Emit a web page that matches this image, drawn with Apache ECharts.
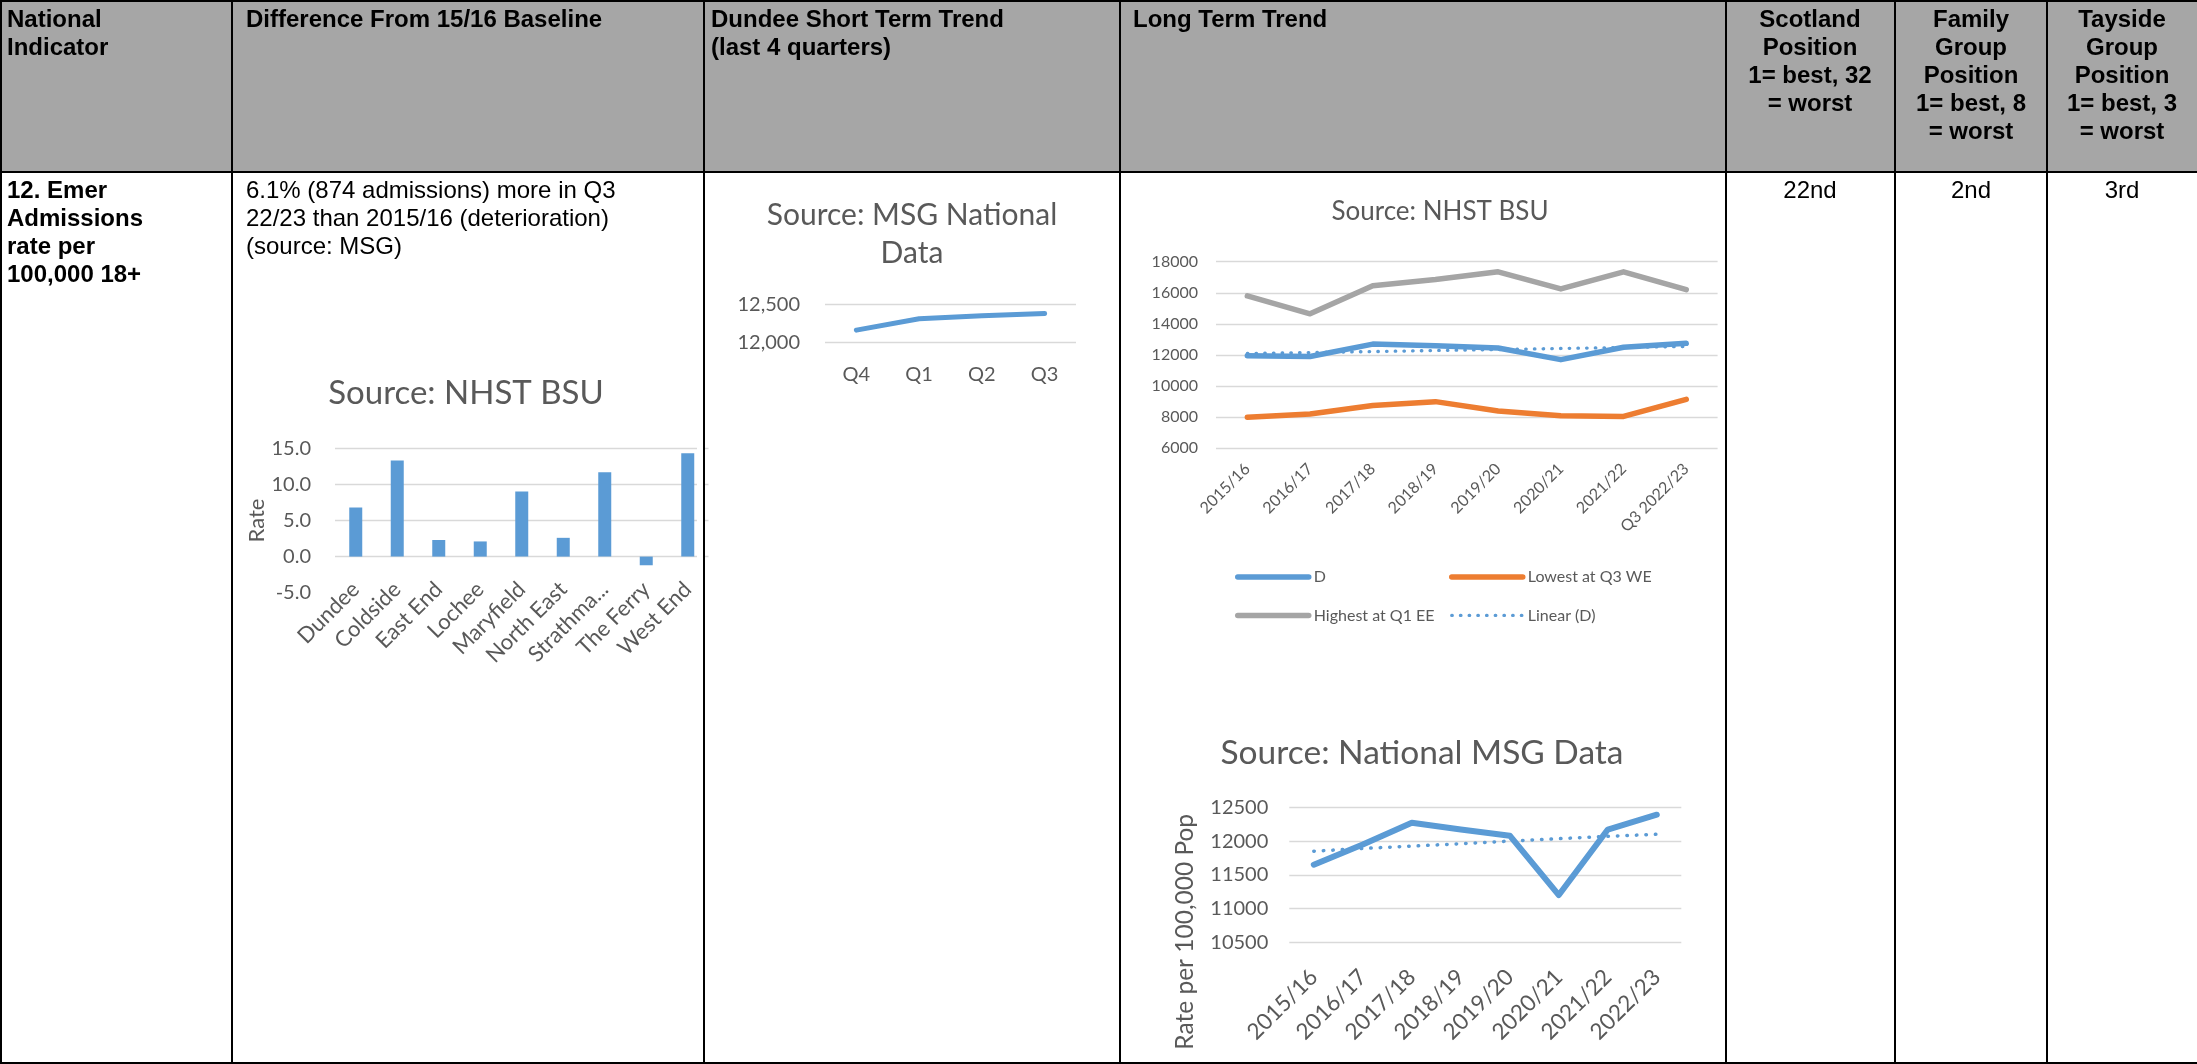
<!DOCTYPE html>
<html>
<head>
<meta charset="utf-8">
<title>12. Emer Admissions rate per 100,000 18+</title>
<script src="https://cdn.jsdelivr.net/npm/echarts@6.0.0/dist/echarts.min.js"></script>
<style>
  html, body { margin: 0; padding: 0; background: #fff; }
  #page { width: 2197px; height: 1064px; }
</style>
</head>
<body>
<div id="page"></div>
<script>
// ---- data ----
const wardNames = ["Dundee", "Coldside", "East End", "Lochee", "Maryfield", "North East", "Strathma...", "The Ferry", "West End"]
const wardRates = [6.8, 13.3, 2.3, 2.1, 9.0, 2.6, 11.7, -1.2, 14.3]

const quarters = ["Q4", "Q1", "Q2", "Q3"]
const quarterRates = [12160, 12310, 12350, 12380]

const bsuYears = ["2015/16", "2016/17", "2017/18", "2018/19", "2019/20", "2020/21", "2021/22", "Q3 2022/23"]
const dundeeBsu = [11950, 11900, 12700, 12600, 12450, 11700, 12500, 12750]
const lowestWE = [8000, 8200, 8750, 9000, 8400, 8100, 8050, 9150]
const highestEE = [15800, 14650, 16450, 16850, 17350, 16250, 17350, 16200]
const dundeeBsuLinear = [12100, 12160, 12220, 12290, 12350, 12420, 12480, 12550]

const msgYears = ["2015/16", "2016/17", "2017/18", "2018/19", "2019/20", "2020/21", "2021/22", "2022/23"]
const msgRates = [11650, 11950, 12270, 12170, 12080, 11200, 12170, 12390]
const msgLinear = [11850, 11890, 11925, 11960, 12000, 12035, 12070, 12100]

// ---- table text ----
const headerCells = [
  { x: 7, align: "left", text: "National\nIndicator" },
  { x: 246, align: "left", text: "Difference From 15/16 Baseline" },
  { x: 711, align: "left", text: "Dundee Short Term Trend\n(last 4 quarters)" },
  { x: 1133, align: "left", text: "Long Term Trend" },
  { x: 1810, align: "center", text: "Scotland\nPosition\n1= best, 32\n= worst" },
  { x: 1971, align: "center", text: "Family\nGroup\nPosition\n1= best, 8\n= worst" },
  { x: 2122, align: "center", text: "Tayside\nGroup\nPosition\n1= best, 3\n= worst" }
]
const bodyCells = [
  { x: 7, align: "left", bold: true, text: "12. Emer\nAdmissions\nrate per\n100,000 18+" },
  { x: 246, align: "left", bold: false, text: "6.1% (874 admissions) more in Q3\n22/23 than 2015/16 (deterioration)\n(source: MSG)" },
  { x: 1810, align: "center", bold: false, text: "22nd" },
  { x: 1971, align: "center", bold: false, text: "2nd" },
  { x: 2122, align: "center", bold: false, text: "3rd" }
]
const columnLines = [232, 704, 1120, 1726, 1895, 2047]

const tableFont = "'Liberation Sans', Arial, sans-serif"
const chartFont = "Lato, 'Open Sans', sans-serif"
const grey = "#595959"
const gridGrey = "#d9d9d9"
const blue = "#5b9bd5"
const orange = "#ed7d31"
const silver = "#a5a5a5"

function cellText(c, top, bold) {
  return {
    type: "text", z: 100, silent: true,
    style: {
      text: c.text, x: c.x, y: top,
      fontFamily: tableFont, fontSize: 24, fontWeight: bold ? "bold" : "normal",
      lineHeight: 28, fill: "#000", align: c.align, verticalAlign: "top"
    }
  }
}

function rule(x1, y1, x2, y2) {
  return { type: "line", z: 110, silent: true, shape: { x1, y1, x2, y2 }, style: { stroke: "#000", lineWidth: 2 } }
}

const graphics = [
  { type: "rect", z: 1, silent: true, shape: { x: 0, y: 0, width: 2197, height: 172 }, style: { fill: "#a6a6a6" } },
  // the bar chart picture is cropped a little short of the cell edge
  { type: "rect", z: 90, silent: true, shape: { x: 697, y: 430, width: 7, height: 180 }, style: { fill: "#fff" } },
  rule(0, 1, 2197, 1), rule(1, 0, 1, 1064), rule(0, 172, 2197, 172), rule(0, 1063, 2197, 1063),
  ...columnLines.map(x => rule(x, 0, x, 1064)),
  ...headerCells.map(c => cellText(c, 6.5, true)),
  ...bodyCells.map(c => cellText(c, 177.5, c.bold))
]

function chartTitle(text, cx, cy, size, lineHeight) {
  return {
    text, left: cx, top: cy, padding: 0,
    textAlign: "center", textVerticalAlign: "middle",
    textStyle: { fontFamily: chartFont, fontSize: size, fontWeight: "normal", color: grey, lineHeight: lineHeight || size * 1.2 }
  }
}

const plain = v => String(v)

function valueAxis(gridIndex, min, max, interval, fontSize, margin, fmt) {
  return {
    type: "value", gridIndex, min, max, interval,
    axisLine: { show: false }, axisTick: { show: false },
    axisLabel: { fontFamily: chartFont, fontSize, color: grey, margin, formatter: fmt || plain },
    splitLine: { lineStyle: { color: gridGrey, width: 1.3 } }
  }
}

function categoryAxis(gridIndex, data, fontSize, rotate, margin) {
  return {
    type: "category", gridIndex, data,
    axisLine: { show: false, onZero: false }, axisTick: { show: false },
    axisLabel: { interval: 0, rotate, fontFamily: chartFont, fontSize, color: grey, margin }
  }
}

function lineSeries(name, data, axisIndex, color, width, dotted) {
  return {
    name, type: "line", data, xAxisIndex: axisIndex, yAxisIndex: axisIndex,
    symbol: "none", showSymbol: false, silent: true,
    lineStyle: {
      color, width, cap: "round", join: "round",
      type: dotted ? [0.5, dotted] : "solid"
    },
    itemStyle: { color }
  }
}

const barYAxis = valueAxis(0, -5, 15, 5, 20, 24, v => v.toFixed(1))
barYAxis.name = "Rate"
barYAxis.nameLocation = "middle"
barYAxis.nameGap = 62
barYAxis.nameTextStyle = { fontFamily: chartFont, fontSize: 22, color: grey }
barYAxis.splitLine.lineStyle.color = ["transparent", gridGrey, gridGrey, gridGrey, gridGrey]

const msgYAxis = valueAxis(3, 10500, 12500, 500, 20, 21)
msgYAxis.name = "Rate per 100,000 Pop"
msgYAxis.nameLocation = "middle"
msgYAxis.nameGap = 92
// title sits lower than the plot's middle, as in the report
msgYAxis.nameTextStyle = { fontFamily: chartFont, fontSize: 24.5, color: grey, padding: [0, 114, 0, 0] }

const legendBase = {
  orient: "vertical", top: 569, itemWidth: 71, itemHeight: 16, itemGap: 22.4, padding: 0,
  selectedMode: false, lineStyle: { width: "inherit" }, itemStyle: { opacity: 0 },
  textStyle: { fontFamily: chartFont, fontSize: 16, color: grey }
}

const chart = echarts.init(document.getElementById("page"), null, { renderer: "canvas" })
chart.setOption({
  animation: false,
  backgroundColor: "#fff",
  textStyle: { fontFamily: chartFont },
  graphic: { elements: graphics },
  title: [
    chartTitle("Source: NHST BSU", 466, 393, 33),
    chartTitle("Source: MSG National\nData", 912, 234, 30, 38.3),
    chartTitle("Source: NHST BSU", 1440, 212, 26),
    chartTitle("Source: National MSG Data", 1422, 753, 33.5)
  ],
  legend: [
    Object.assign({}, legendBase, { left: 1235, data: ["D", "Highest at Q1 EE"] }),
    Object.assign({}, legendBase, { left: 1449, data: ["Lowest at Q3 WE", "Linear (D)"] })
  ],
  grid: [
    { left: 335, top: 448.3, width: 373.5, height: 144.4 },
    { left: 825, top: 304.3, width: 251, height: 38 },
    { left: 1216, top: 261.7, width: 501.6, height: 186.6 },
    { left: 1289.3, top: 807.3, width: 392, height: 135 }
  ],
  xAxis: [
    categoryAxis(0, wardNames, 22, 45, -7),
    categoryAxis(1, quarters, 20, 0, 22),
    categoryAxis(2, bsuYears, 16, 45, 18),
    categoryAxis(3, msgYears, 22.5, 45, 31)
  ],
  yAxis: [
    barYAxis,
    valueAxis(1, 12000, 12500, 500, 20, 25, v => v.toLocaleString("en-US")),
    valueAxis(2, 6000, 18000, 2000, 16, 18),
    msgYAxis
  ],
  series: [
    {
      name: "Rate", type: "bar", data: wardRates, xAxisIndex: 0, yAxisIndex: 0,
      barWidth: 13, silent: true, itemStyle: { color: blue }
    },
    lineSeries("Dundee", quarterRates, 1, blue, 5),
    lineSeries("D", dundeeBsu, 2, blue, 5.5),
    lineSeries("Lowest at Q3 WE", lowestWE, 2, orange, 5.5),
    lineSeries("Highest at Q1 EE", highestEE, 2, silver, 5.5),
    lineSeries("Linear (D)", dundeeBsuLinear, 2, blue, 3.3, 8.2),
    lineSeries("MSG rate", msgRates, 3, blue, 6),
    lineSeries("Linear (MSG rate)", msgLinear, 3, blue, 3.5, 9)
  ]
})
</script>
</body>
</html>
